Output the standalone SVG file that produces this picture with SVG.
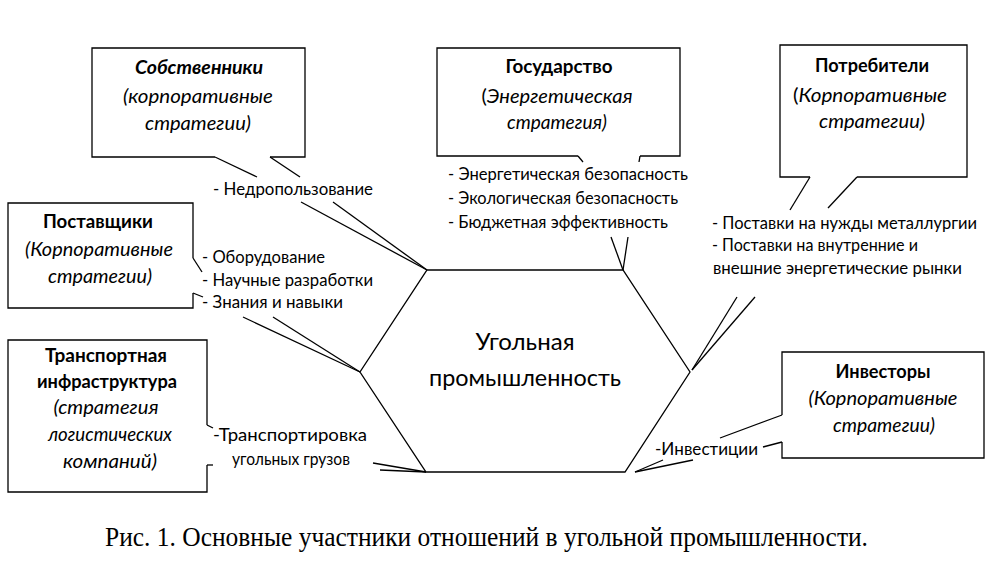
<svg xmlns="http://www.w3.org/2000/svg" width="1000" height="568" viewBox="0 0 1000 568">
<style>
  .ln { fill: none; stroke: #000; stroke-width: 1.3; stroke-linejoin: miter; }
  text { font-family: Lato, "Noto Sans", sans-serif; fill: #000; }
  .t { font-size: 18.5px; font-weight: bold; text-anchor: middle; }
  .i { font-size: 19px; font-style: italic; text-anchor: middle; }
  .b { font-size: 16.5px; }
  .c { font-size: 23.5px; text-anchor: middle; }
  .cap { font-family: "Liberation Serif", "Times New Roman", serif; font-size: 27px; text-anchor: middle; }
</style>
<rect width="1000" height="568" fill="#fff"/>

<g id="center">
  <polygon class="ln" points="427,270 623,270 690,372 625,472 426,472 360,372"/>
  <text class="c" x="525" y="350" textLength="99" lengthAdjust="spacingAndGlyphs">Угольная</text>
  <text class="c" x="525" y="386" textLength="192" lengthAdjust="spacingAndGlyphs">промышленность</text>
</g>

<g id="owners">
  <path class="ln" d="M215,157 L92,157 L92,48 L305,48 L305,157 L270,157"/>
  <text class="t" x="199" y="74" font-style="italic" textLength="128" lengthAdjust="spacingAndGlyphs">Собственники</text>
  <text class="i" x="198" y="103" textLength="150" lengthAdjust="spacingAndGlyphs">(корпоративные</text>
  <text class="i" x="198" y="130" textLength="106" lengthAdjust="spacingAndGlyphs">стратегии)</text>
  <text class="b" x="213" y="195" textLength="160" lengthAdjust="spacingAndGlyphs">- Недропользование</text>
</g>

<g id="state">
  <path class="ln" d="M578,156 L437,156 L437,48 L680,48 L680,156 L640,156"/>
  <text class="t" x="559" y="73" textLength="107" lengthAdjust="spacingAndGlyphs">Государство</text>
  <text class="i" x="557" y="103" textLength="151" lengthAdjust="spacingAndGlyphs"><tspan font-style="normal">(</tspan>Энергетическая</text>
  <text class="i" x="557" y="129" textLength="100" lengthAdjust="spacingAndGlyphs">стратегия)</text>
  <text class="b" x="448" y="180" textLength="240" lengthAdjust="spacingAndGlyphs">- Энергетическая безопасность</text>
  <text class="b" x="448" y="204" textLength="230" lengthAdjust="spacingAndGlyphs">- Экологическая безопасность</text>
  <text class="b" x="448" y="228" textLength="220" lengthAdjust="spacingAndGlyphs">- Бюджетная эффективность</text>
</g>

<g id="consumers">
  <path class="ln" d="M810,177 L780,177 L780,45 L967,45 L967,177 L857,177"/>
  <text class="t" x="872" y="72" textLength="114" lengthAdjust="spacingAndGlyphs">Потребители</text>
  <text class="i" x="870" y="102" textLength="154" lengthAdjust="spacingAndGlyphs"><tspan font-style="normal">(</tspan>Корпоративные</text>
  <text class="i" x="872" y="128" textLength="106" lengthAdjust="spacingAndGlyphs">стратегии)</text>
  <text class="b" x="712" y="229" textLength="265" lengthAdjust="spacingAndGlyphs">- Поставки на нужды металлургии</text>
  <text class="b" x="712" y="251" textLength="206" lengthAdjust="spacingAndGlyphs">- Поставки на внутренние и</text>
  <text class="b" x="713" y="274" textLength="249" lengthAdjust="spacingAndGlyphs">внешние энергетические рынки</text>
</g>

<g id="suppliers">
  <path class="ln" d="M193,258 L193,203 L8,203 L8,308 L193,308 L193,293"/>
  <text class="t" x="98" y="228" textLength="110" lengthAdjust="spacingAndGlyphs">Поставщики</text>
  <text class="i" x="99" y="256" textLength="148" lengthAdjust="spacingAndGlyphs">(Корпоративные</text>
  <text class="i" x="100" y="283" textLength="104" lengthAdjust="spacingAndGlyphs">стратегии)</text>
  <text class="b" x="202" y="263" textLength="123" lengthAdjust="spacingAndGlyphs">- Оборудование</text>
  <text class="b" x="202" y="286" textLength="171" lengthAdjust="spacingAndGlyphs">- Научные разработки</text>
  <text class="b" x="202" y="308" textLength="141" lengthAdjust="spacingAndGlyphs">- Знания и навыки</text>
</g>

<g id="transport">
  <path class="ln" d="M207,425 L207,340 L8,340 L8,492 L207,492 L207,465"/>
  <text class="t" x="106" y="362" textLength="122" lengthAdjust="spacingAndGlyphs">Транспортная</text>
  <text class="t" x="107" y="388" textLength="140" lengthAdjust="spacingAndGlyphs">инфраструктура</text>
  <text class="i" x="106" y="414" textLength="105" lengthAdjust="spacingAndGlyphs">(стратегия</text>
  <text class="i" x="110" y="441" textLength="124" lengthAdjust="spacingAndGlyphs">логистических</text>
  <text class="i" x="110" y="468" textLength="94" lengthAdjust="spacingAndGlyphs">компаний)</text>
  <text class="b" x="290" y="441" text-anchor="middle" textLength="154" lengthAdjust="spacingAndGlyphs">-Транспортировка</text>
  <text class="b" x="291" y="465" text-anchor="middle" textLength="118" lengthAdjust="spacingAndGlyphs">угольных грузов</text>
</g>

<g id="investors">
  <path class="ln" d="M782,415 L782,352 L984,352 L984,458 L782,458 L782,442"/>
  <text class="t" x="883" y="378" textLength="95" lengthAdjust="spacingAndGlyphs">Инвесторы</text>
  <text class="i" x="883" y="405" textLength="149" lengthAdjust="spacingAndGlyphs">(Корпоративные</text>
  <text class="i" x="884" y="432" textLength="102" lengthAdjust="spacingAndGlyphs">стратегии)</text>
  <text class="b" x="655" y="455" textLength="103" lengthAdjust="spacingAndGlyphs">-Инвестиции</text>
</g>

<g id="connectors" class="ln">
  <line x1="215" y1="157" x2="257" y2="177"/>
  <line x1="270" y1="157" x2="300" y2="177"/>
  <line x1="301" y1="202" x2="427" y2="270"/>
  <line x1="333" y1="202" x2="427" y2="270"/>

  <line x1="578" y1="156" x2="583" y2="162"/>
  <line x1="640" y1="156" x2="639" y2="162"/>
  <line x1="611" y1="237" x2="623" y2="270"/>
  <line x1="628" y1="237" x2="623" y2="270"/>

  <line x1="810" y1="177" x2="790" y2="210"/>
  <line x1="857" y1="177" x2="828" y2="208"/>
  <line x1="737" y1="297" x2="692" y2="370"/>
  <line x1="755" y1="297" x2="692" y2="370"/>

  <line x1="193" y1="258" x2="202" y2="272"/>
  <line x1="193" y1="293" x2="203" y2="297"/>
  <line x1="243" y1="317" x2="360" y2="372"/>
  <line x1="273" y1="317" x2="360" y2="372"/>

  <line x1="207" y1="425" x2="213" y2="428"/>
  <line x1="207" y1="465" x2="213" y2="465"/>
  <line x1="373" y1="463" x2="426" y2="472"/>
  <line x1="380" y1="470" x2="426" y2="472"/>

  <line x1="782" y1="415" x2="720" y2="438"/>
  <line x1="782" y1="442" x2="763" y2="447"/>
  <line x1="663" y1="460" x2="635" y2="472"/>
  <line x1="693" y1="460" x2="635" y2="472"/>
</g>

<text class="cap" x="486.5" y="546" textLength="763" lengthAdjust="spacingAndGlyphs">Рис. 1. Основные участники отношений в угольной промышленности.</text>
</svg>
